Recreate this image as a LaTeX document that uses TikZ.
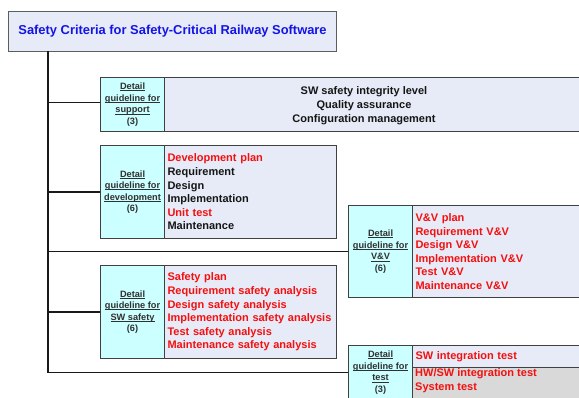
\documentclass[tikz,border=0pt]{standalone}
\usepackage{fontspec}
\setmainfont{Liberation Sans}
\definecolor{bordc}{HTML}{404040}
\definecolor{labfill}{HTML}{CCFFFF}
\definecolor{contfill}{HTML}{E6EBF7}
\definecolor{grayfill}{HTML}{D9D9D9}
\definecolor{titleblue}{RGB}{20,20,230}
\definecolor{labtext}{HTML}{303030}
\definecolor{redtext}{RGB}{245,15,15}
\definecolor{blacktext}{HTML}{151515}
\newsavebox{\myulbox}
\newcommand{\myul}[1]{\sbox{\myulbox}{#1}\rlap{\rule[-1.4pt]{\wd\myulbox}{0.55pt}}\usebox{\myulbox}}
\begin{document}
\begin{tikzpicture}[x=1pt,y=-1pt,
  box/.style={draw=bordc, line width=1.1pt, inner sep=0pt, anchor=north west},
  labcell/.style={box, fill=labfill, minimum width=64pt, align=center,
    text=labtext, font=\fontsize{9.2}{11.6}\selectfont\bfseries},
  contcell/.style={box, fill=contfill, align=left, inner xsep=3pt,
    font=\fontsize{11}{13.6}\selectfont\bfseries, text=blacktext},
  conn/.style={draw=black!90, line width=1.3pt},
  rd/.style={text=redtext}]
\useasboundingbox (0,0) rectangle (579,397);

% title
\node[box, draw=bordc!85, fill=contfill, minimum width=328pt, minimum height=40pt,
  text=titleblue, font=\fontsize{12.9}{15}\selectfont\bfseries] (title) at (8,11)
  {Safety Criteria for Safety-Critical Railway Software};

% support
\node[labcell, minimum height=54pt] (supl) at (100,77)
  {\myul{Detail}\\\myul{guideline for}\\\myul{support}\\(3)};
\node[contcell, minimum width=460pt, minimum height=54pt] (supc) at (164,77) {};
\node[align=center, inner sep=0pt, font=\fontsize{11}{14}\selectfont\bfseries, text=blacktext]
  (suptext) at (364,105.5)
  {SW safety integrity level\\Quality assurance\\Configuration management};

% development
\node[labcell, minimum height=93pt] (devl) at (100,145)
  {\myul{Detail}\\\myul{guideline for}\\\myul{development}\\(6)};
\node[contcell, text width=166pt, minimum height=93pt] (devc) at (164,145)
  {\textcolor{redtext}{Development plan}\\Requirement\\Design\\Implementation\\\textcolor{redtext}{Unit test}\\Maintenance};

% V&V
\node[labcell, minimum height=92pt] (vvl) at (348,205)
  {\myul{Detail}\\\myul{guideline for}\\\myul{V\&V}\\(6)};
\node[contcell, rd, text width=194pt, minimum height=92pt] (vvc) at (412,205)
  {V\&V plan\\Requirement V\&V\\Design V\&V\\Implementation V\&V\\Test V\&V\\Maintenance V\&V};

% SW safety
\node[labcell, minimum height=93pt] (sfl) at (100,265)
  {\myul{Detail}\\\myul{guideline for}\\\myul{SW safety}\\(6)};
\node[contcell, rd, text width=166pt, minimum height=93pt] (sfc) at (164,265)
  {Safety plan\\Requirement safety analysis\\Design safety analysis\\Implementation safety analysis\\Test safety analysis\\Maintenance safety analysis};

% test
\node[labcell, minimum height=54pt] (tsl) at (348,345)
  {\myul{Detail}\\\myul{guideline for}\\\myul{test}\\(3)};
\node[contcell, rd, text width=194pt, minimum height=22pt] (tsu) at (412,345)
  {SW integration test};
\node[contcell, fill=grayfill, minimum width=200pt, minimum height=40pt] (tsd) at (412,367) {};
\node[inner sep=0pt, anchor=north west, align=left, text=redtext,
  font=\fontsize{11}{13.6}\selectfont\bfseries] (tsdtext) at (415,368.5)
  {HW/SW integration test\\System test};

% connectors
\coordinate (tr) at (48,51);
\draw[conn] (tr) |- (tsl.west);
\draw[conn] ([yshift=2pt]supl.west -| tr) -- ([yshift=2pt]supl.west);
\draw[conn] (devl.west -| tr) -- (devl.west);
\draw[conn] (vvl.west -| tr) -- (vvl.west);
\draw[conn] (sfl.west -| tr) -- (sfl.west);
\end{tikzpicture}
\end{document}
